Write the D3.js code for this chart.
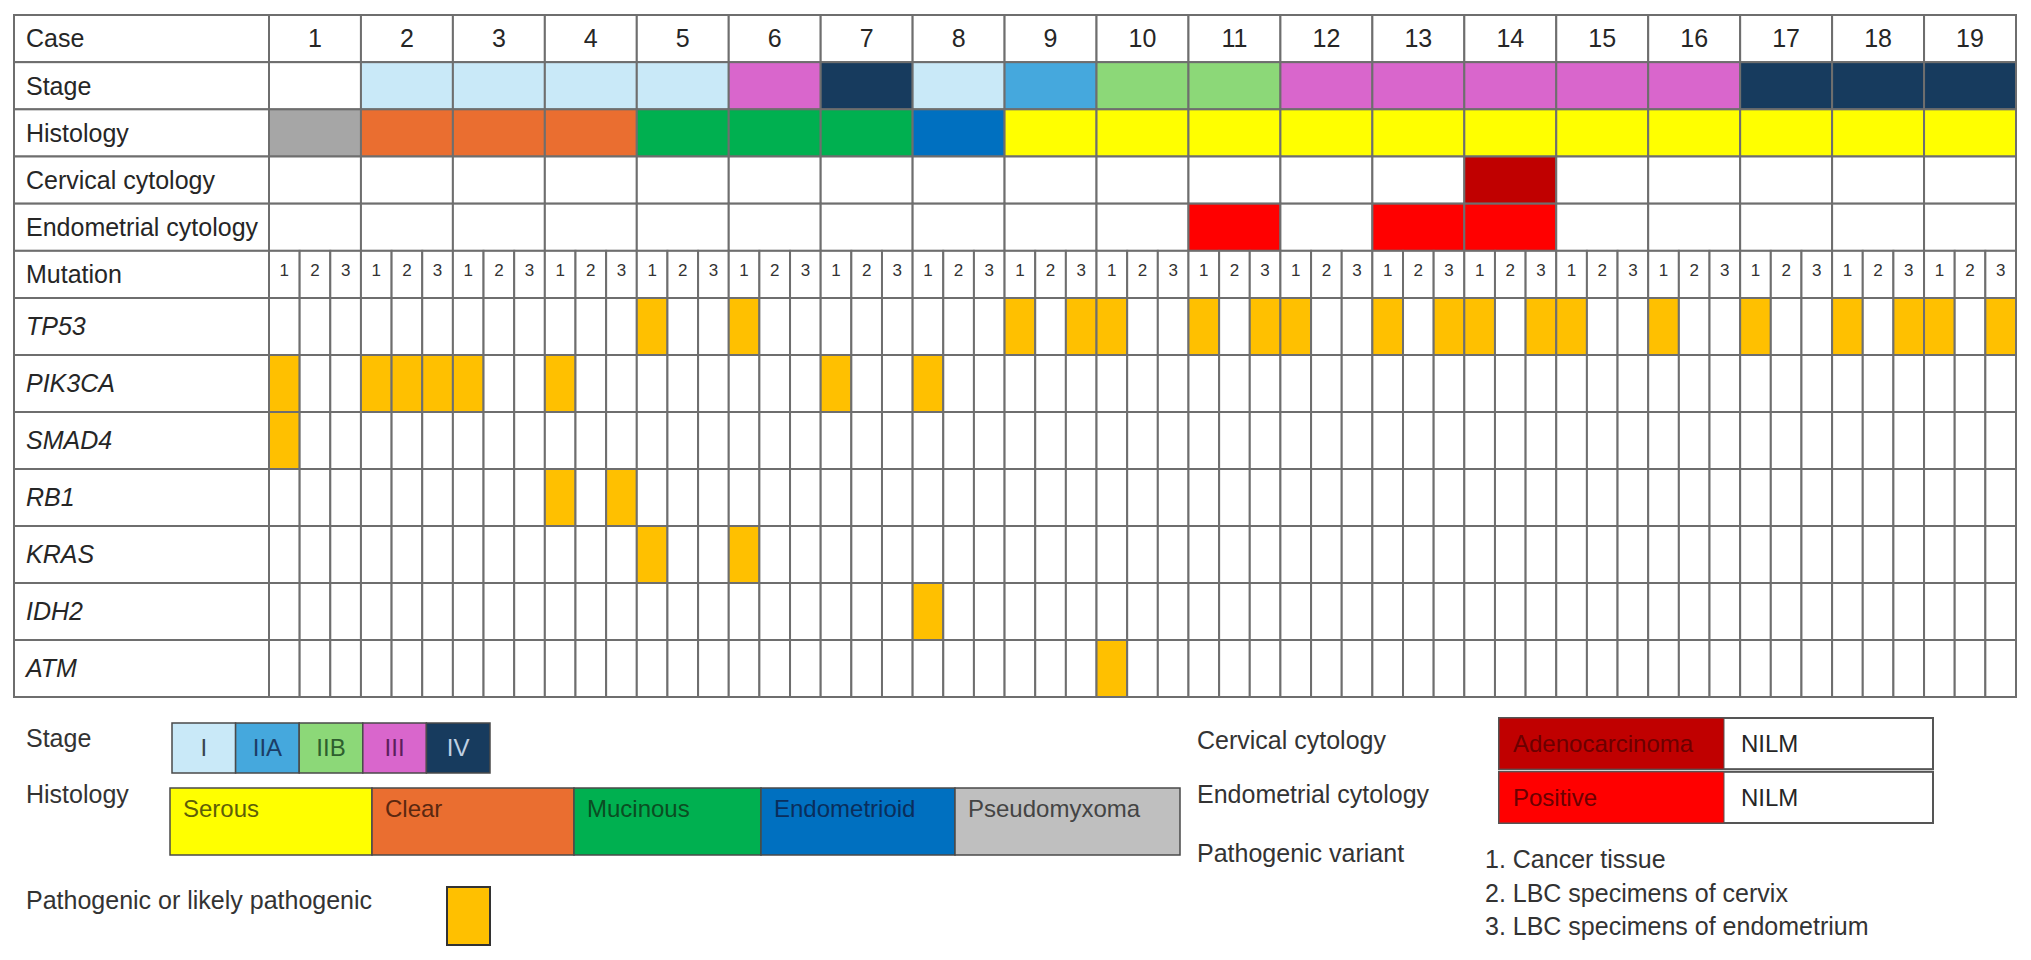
<!DOCTYPE html>
<html>
<head>
<meta charset="utf-8">
<script src="https://cdn.jsdelivr.net/npm/d3@7"></script>
<style>
  body { margin: 0; background: #fff; }
  text { font-family: "Liberation Sans", Arial, sans-serif; }
</style>
</head>
<body>
<div id="chart"></div>
<script>
// categories
const cases = ["1","2","3","4","5","6","7","8","9","10","11","12","13","14","15","16","17","18","19"];
const samples = ["1","2","3"];
const headerRows = ["Case","Stage","Histology","Cervical cytology","Endometrial cytology","Mutation"];
const genes = ["TP53","PIK3CA","SMAD4","RB1","KRAS","IDH2","ATM"];

// per-case annotations (case 1 .. 19)
const stageByCase = ["", "I","I","I","I","III","IV","I","IIA","IIB","IIB","III","III","III","III","III","IV","IV","IV"];
const histologyByCase = ["Pseudomyxoma","Clear","Clear","Clear","Mucinous","Mucinous","Mucinous","Endometrioid",
  "Serous","Serous","Serous","Serous","Serous","Serous","Serous","Serous","Serous","Serous","Serous"];
const cervicalByCase = ["NILM","NILM","NILM","NILM","NILM","NILM","NILM","NILM","NILM","NILM",
  "NILM","NILM","NILM","Adenocarcinoma","NILM","NILM","NILM","NILM","NILM"];
const endometrialByCase = ["NILM","NILM","NILM","NILM","NILM","NILM","NILM","NILM","NILM","NILM",
  "Positive","NILM","Positive","Positive","NILM","NILM","NILM","NILM","NILM"];

// pathogenic variants: [case, sample]
const tp53Hits = [[5,1],[6,1],[9,1],[9,3],[10,1],[11,1],[11,3],[12,1],[13,1],[13,3],[14,1],[14,3],[15,1],[16,1],[17,1],[18,1],[18,3],[19,1],[19,3]];
const pik3caHits = [[1,1],[2,1],[2,2],[2,3],[3,1],[4,1],[7,1],[8,1]];
const smad4Hits = [[1,1]];
const rb1Hits = [[4,1],[4,3]];
const krasHits = [[5,1],[6,1]];
const idh2Hits = [[8,1]];
const atmHits = [[10,1]];

// legend categories
const stages = ["I","IIA","IIB","III","IV"];
const stageColors = ["#c9e9f8","#45a8dd","#8cd878","#d966cc","#173b5e"];
const stageTextColors = ["#3a4650","#1c3d66","#2e5e2e","#5c1f5c","#c0d0e2"];
const histologies = ["Serous","Clear","Mucinous","Endometrioid","Pseudomyxoma"];
const histologyColors = ["#ffff00","#ea6e30","#00b050","#0070c0","#a6a6a6"];
const histologyLegendColors = ["#ffff00","#ea6e30","#00b050","#0070c0","#bfbfbf"];
const histologyTextColors = ["#5e5e08","#5a2810","#0b4d22","#0a2e5c","#444444"];
const cytologyLabels = ["Cervical cytology","Endometrial cytology"];
const cytologyPositive = ["Adenocarcinoma","Positive"];
const sampleNotes = ["1. Cancer tissue","2. LBC specimens of cervix","3. LBC specimens of endometrium"];

const W = 2031, H = 960;
const gridStroke = "#6e6e6e";
const orange = "#ffc000";

const svg = d3.select("#chart").append("svg").attr("width", W).attr("height", H);

// scales
const left = 14, labelRight = 269, right = 2016;
const x = d3.scaleBand().domain(cases).range([labelRight, right]);
const subKeys = cases.flatMap(c => samples.map(s => c + "-" + s));
const xs = d3.scaleBand().domain(subKeys).range([labelRight, right]);
const yHead = d3.scaleBand().domain(headerRows).range([15, 298]);
const yGene = d3.scaleBand().domain(genes).range([298, 697]);

const stageColor = d3.scaleOrdinal().domain(stages).range(stageColors).unknown("#fff");
const histColor = d3.scaleOrdinal().domain(histologies).range(histologyColors);

const table = svg.append("g");

// label column
const labelRows = headerRows.map(r => ({ name: r, y: yHead(r), h: yHead.bandwidth(), italic: false }))
  .concat(genes.map(g => ({ name: g, y: yGene(g), h: yGene.bandwidth(), italic: true })));

table.selectAll(".label-cell")
  .data(labelRows)
  .join("rect")
  .attr("x", left).attr("y", d => d.y)
  .attr("width", labelRight - left).attr("height", d => d.h)
  .attr("fill", "#fff").attr("stroke", gridStroke).attr("stroke-width", 2);

table.selectAll(".label-text")
  .data(labelRows)
  .join("text")
  .attr("x", left + 12).attr("y", d => d.y + d.h / 2)
  .attr("dy", "0.35em")
  .attr("font-size", 25)
  .attr("font-style", d => d.italic ? "italic" : "normal")
  .attr("fill", "#262626")
  .text(d => d.name);

// case-level rows
function caseRow(rowName, fillFn) {
  table.append("g").selectAll("rect")
    .data(cases)
    .join("rect")
    .attr("x", c => x(c)).attr("y", yHead(rowName))
    .attr("width", x.bandwidth()).attr("height", yHead.bandwidth())
    .attr("fill", (c, i) => fillFn(i))
    .attr("stroke", gridStroke).attr("stroke-width", 2);
}
caseRow("Case", () => "#fff");
caseRow("Stage", i => stageColor(stageByCase[i]));
caseRow("Histology", i => histColor(histologyByCase[i]));
caseRow("Cervical cytology", i => cervicalByCase[i] === "Adenocarcinoma" ? "#c00000" : "#fff");
caseRow("Endometrial cytology", i => endometrialByCase[i] === "Positive" ? "#ff0000" : "#fff");

table.append("g").selectAll("text")
  .data(cases)
  .join("text")
  .attr("x", c => x(c) + x.bandwidth() / 2)
  .attr("y", yHead("Case") + yHead.bandwidth() / 2)
  .attr("dy", "0.35em")
  .attr("text-anchor", "middle")
  .attr("font-size", 25)
  .attr("fill", "#262626")
  .text(c => c);

// mutation sub-header
table.append("g").selectAll("rect")
  .data(subKeys)
  .join("rect")
  .attr("x", k => xs(k)).attr("y", yHead("Mutation"))
  .attr("width", xs.bandwidth()).attr("height", yHead.bandwidth())
  .attr("fill", "#fff").attr("stroke", gridStroke).attr("stroke-width", 2);

table.append("g").selectAll("text")
  .data(subKeys)
  .join("text")
  .attr("x", k => xs(k) + xs.bandwidth() / 2)
  .attr("y", yHead("Mutation") + yHead.bandwidth() / 2 - 4)
  .attr("dy", "0.35em")
  .attr("text-anchor", "middle")
  .attr("font-size", 17)
  .attr("fill", "#333")
  .text(k => k.split("-")[1]);

// gene rows
const geneHits = [tp53Hits, pik3caHits, smad4Hits, rb1Hits, krasHits, idh2Hits, atmHits];
const geneCells = genes.flatMap((g, gi) => {
  const hit = new Set(geneHits[gi].map(h => h[0] + "-" + h[1]));
  return subKeys.map(k => ({ gene: g, key: k, hit: hit.has(k) }));
});

table.append("g").selectAll("rect")
  .data(geneCells)
  .join("rect")
  .attr("x", d => xs(d.key)).attr("y", d => yGene(d.gene))
  .attr("width", xs.bandwidth()).attr("height", yGene.bandwidth())
  .attr("fill", d => d.hit ? orange : "#fff")
  .attr("stroke", gridStroke).attr("stroke-width", 2);

// ---- legends ----
const legend = svg.append("g");
const legendText = (x0, y0, t) => legend.append("text")
  .attr("x", x0).attr("y", y0).attr("font-size", 25).attr("fill", "#333").text(t);

legendText(26, 747, "Stage");
legendText(26, 803, "Histology");
legendText(26, 909, "Pathogenic or likely pathogenic");

// stage swatches
const xStage = d3.scaleBand().domain(stages).range([172, 490]);
legend.append("g").selectAll("rect")
  .data(stages)
  .join("rect")
  .attr("x", s => xStage(s)).attr("y", 723)
  .attr("width", xStage.bandwidth()).attr("height", 50)
  .attr("fill", (s, i) => stageColors[i])
  .attr("stroke", "#4a4a4a").attr("stroke-width", 1.5);
legend.append("g").selectAll("text")
  .data(stages)
  .join("text")
  .attr("x", s => xStage(s) + xStage.bandwidth() / 2)
  .attr("y", 748).attr("dy", "0.35em")
  .attr("text-anchor", "middle").attr("font-size", 24)
  .attr("fill", (s, i) => stageTextColors[i])
  .text(s => s);

// histology swatches (boxes are not equal width in the original)
const histBoxWidths = [202, 202, 187, 194, 225];
const histEdges = d3.cumsum([170].concat(histBoxWidths));
legend.append("g").selectAll("rect")
  .data(histologies)
  .join("rect")
  .attr("x", (h, i) => histEdges[i]).attr("y", 788)
  .attr("width", (h, i) => histBoxWidths[i]).attr("height", 67)
  .attr("fill", (h, i) => histologyLegendColors[i])
  .attr("stroke", "#4a4a4a").attr("stroke-width", 1.5);
legend.append("g").selectAll("text")
  .data(histologies)
  .join("text")
  .attr("x", (h, i) => histEdges[i] + 13)
  .attr("y", 817)
  .attr("font-size", 24)
  .attr("fill", (h, i) => histologyTextColors[i])
  .text(h => h);

// pathogenic swatch
legend.append("rect")
  .attr("x", 447).attr("y", 887).attr("width", 43).attr("height", 58)
  .attr("fill", orange).attr("stroke", "#333").attr("stroke-width", 2);

// cytology legend
const yCyto = d3.scaleBand().domain(cytologyLabels).range([718, 823]).paddingInner(0.05);
cytologyLabels.forEach((lab, i) => {
  legendText(1197, yCyto(lab) + 31, lab);
  legend.append("rect")
    .attr("x", 1499).attr("y", yCyto(lab))
    .attr("width", 434).attr("height", yCyto.bandwidth())
    .attr("fill", "#fff").attr("stroke", "#555").attr("stroke-width", 2);
  legend.append("rect")
    .attr("x", 1499).attr("y", yCyto(lab))
    .attr("width", 225).attr("height", yCyto.bandwidth())
    .attr("fill", i === 0 ? "#c00000" : "#ff0000").attr("stroke", "#555").attr("stroke-width", 1);
  legend.append("text")
    .attr("x", 1513).attr("y", yCyto(lab) + yCyto.bandwidth() / 2).attr("dy", "0.35em")
    .attr("font-size", 24).attr("fill", "#6b0000")
    .text(cytologyPositive[i]);
  legend.append("text")
    .attr("x", 1741).attr("y", yCyto(lab) + yCyto.bandwidth() / 2).attr("dy", "0.35em")
    .attr("font-size", 24).attr("fill", "#262626")
    .text("NILM");
});

legendText(1197, 862, "Pathogenic variant");

legend.append("g").selectAll("text")
  .data(sampleNotes)
  .join("text")
  .attr("x", 1485).attr("y", (d, i) => 868 + i * 33.5)
  .attr("font-size", 25).attr("fill", "#333")
  .text(d => d);
</script>
</body>
</html>
